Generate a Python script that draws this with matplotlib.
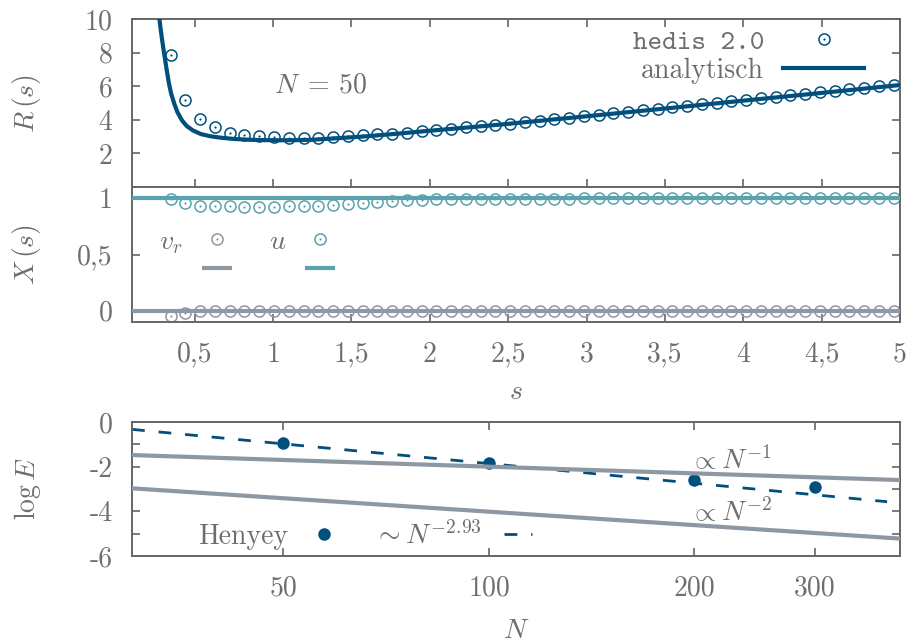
import matplotlib
matplotlib.use('Agg')
import matplotlib.pyplot as plt
import numpy as np
from matplotlib.lines import Line2D
from matplotlib.legend_handler import HandlerBase, HandlerTuple
from matplotlib.ticker import NullLocator, FixedLocator

plt.rcParams.update({
    'font.family': ['cmr10', 'DejaVu Serif'],
    'mathtext.fontset': 'cm',
    'axes.formatter.use_mathtext': True,
    'font.size': 20,
    'lines.scale_dashes': False,
})

# ---------------- data ----------------
# hedis 2.0 sample points (N = 50)
s_hedis = np.linspace(0.347, 4.96, 50)
R_hedis = [7.86, 5.15, 4.06, 3.58, 3.24, 3.11, 3.01, 2.95, 2.91, 2.91,
           2.91, 2.95, 3.01, 3.07, 3.13, 3.17, 3.24, 3.33, 3.40, 3.48,
           3.55, 3.62, 3.70, 3.77, 3.84, 3.93, 4.02, 4.11, 4.20, 4.29,
           4.38, 4.47, 4.56, 4.66, 4.75, 4.84, 4.93, 5.01, 5.10, 5.19,
           5.28, 5.37, 5.45, 5.54, 5.63, 5.72, 5.81, 5.90, 5.99, 6.08]
u_hedis = [0.990, 0.955, 0.935, 0.930, 0.928, 0.925, 0.925, 0.925, 0.927, 0.930,
           0.935, 0.940, 0.950, 0.962, 0.970, 0.976, 0.982, 0.986, 0.990, 0.992,
           0.993, 0.994, 0.995, 0.995, 0.996, 0.996, 0.997, 0.997, 0.998, 0.998,
           0.998, 0.999, 0.999, 0.999, 1.000, 1.000, 1.000, 1.000, 1.000, 1.000,
           1.000, 1.000, 1.000, 1.000, 1.000, 1.000, 1.000, 1.000, 1.000, 1.000]
vr_hedis = [-0.050, -0.024, -0.006, -0.004, -0.003, -0.002, -0.002, -0.001, -0.001, 0.0,
            0.0, 0.0, 0.0, 0.0, 0.0, 0.0, 0.0, 0.0, 0.0, 0.0,
            0.0, 0.0, 0.0, 0.0, 0.0, 0.0, 0.0, 0.0, 0.0, 0.0,
            0.0, 0.0, 0.0, 0.0, 0.0, 0.0, 0.0, 0.0, 0.0, 0.0,
            0.0, 0.0, 0.0, 0.0, 0.0, 0.0, 0.0, 0.0, 0.0, 0.0]

# analytic curve R(s)
s_analytic = [0.27, 0.28, 0.29, 0.30, 0.31, 0.32, 0.335, 0.35, 0.37, 0.39,
              0.42, 0.45, 0.49, 0.54, 0.60, 0.67, 0.75, 0.85, 0.95, 1.05,
              1.15, 1.25, 1.40, 1.60, 1.80, 2.00, 2.25, 2.50, 3.00, 3.50,
              4.00, 4.50, 5.00]
R_analytic = [10.4, 9.6, 8.9, 8.25, 7.65, 7.05, 6.2, 5.55, 4.95, 4.45,
              3.95, 3.62, 3.36, 3.15, 3.02, 2.93, 2.86, 2.81, 2.79, 2.78,
              2.79, 2.81, 2.90, 3.02, 3.18, 3.35, 3.55, 3.76, 4.21, 4.67,
              5.14, 5.60, 6.07]
u_analytic = 1.0
vr_analytic = 0.0

# convergence panel
N_henyey = [50, 100, 200, 300]
logE_henyey = [-0.95, -1.85, -2.60, -2.93]
N_fit = [30, 383]
logE_fit = [-0.33, -3.57]
N_ref = [30, 400]
logE_N1 = [-1.48, -2.60]
logE_N2 = [-2.97, -5.22]

s_ticks = [0.5, 1, 1.5, 2, 2.5, 3, 3.5, 4, 4.5, 5]
s_ticklabels = ['0,5', '1', '1,5', '2', '2,5', '3', '3,5', '4', '4,5', '5']
R_ticks = [2, 4, 6, 8, 10]
X_ticks = [0, 0.5, 1]
X_ticklabels = ['0', '0,5', '1']
N_ticks = [50, 100, 200, 300]
N_ticklabels = ['50', '100', '200', '300']
E_ticks = [0, -2, -4, -6]
E_ticklabels = ['0', '-2', '-4', '-6']
E_minor = [-1, -3, -5]

# ---------------- style ----------------
BLUE = '#004f7c'
TEAL = '#5aa3ad'
GREY = '#8d98a3'
TXT = '#6e6e6e'
FRAME = '#666666'
W, H = 907, 644

fig = plt.figure(figsize=(W / 100, H / 100), dpi=100)

def frac_axes(l, t, r, b):
    return fig.add_axes([l / W, 1 - b / H, (r - l) / W, (b - t) / H])

ax1 = frac_axes(132, 19, 900, 187)
ax2 = frac_axes(132, 187, 900, 322)
ax3 = frac_axes(132, 422, 900, 556)

for ax in (ax1, ax2, ax3):
    for sp in ax.spines.values():
        sp.set_color(FRAME)
        sp.set_linewidth(1.4)
    ax.tick_params(which='both', direction='in', length=6, width=1.2,
                   color=FRAME, labelcolor=TXT, labelsize=20, pad=14)

# ---- top panel ----
ax1.set_xlim(0.1, 5)
ax1.set_ylim(0, 10)
ax1.set_xticks(s_ticks)
ax1.set_yticks(R_ticks)
ax1.set_yticklabels([str(v) for v in R_ticks])
ax1.tick_params(axis='x', top=True, bottom=True, labelbottom=False)
ax1.tick_params(axis='y', left=True, right=True)
ring1, = ax1.plot(s_hedis, R_hedis, 'o', ms=8, mfc='none', mec=BLUE, mew=1.1, zorder=2)
dot1, = ax1.plot(s_hedis, R_hedis, 'o', ms=1.6, color=BLUE, mew=0, zorder=2)
line1, = ax1.plot(s_analytic, R_analytic, color=BLUE, lw=3, zorder=3)
ax1.set_ylabel(r'$R\,(s)$', color=TXT)
ax1.yaxis.set_label_coords(-0.116, 0.5)
ax1.text(0.245, 0.607, r'$N\;=\,50$', transform=ax1.transAxes, color=TXT,
         ha='center', va='center', fontsize=20)
leg1 = ax1.legend([(ring1, dot1), line1], ['hedis 2.0', 'analytisch'],
                  handler_map={tuple: HandlerTuple(ndivide=1)},
                  loc='upper right', bbox_to_anchor=(0.953, 0.94), frameon=False,
                  markerfirst=False, handlelength=2.9, handletextpad=0.7,
                  labelspacing=0.1, borderpad=0, borderaxespad=0, numpoints=1,
                  labelcolor=TXT, fontsize=20)
leg1.get_texts()[0].set_fontfamily('cmtt10')

# ---- middle panel ----
class RingOverLine(HandlerBase):
    def create_artists(self, legend, orig_handle, xdescent, ydescent, width,
                       height, fontsize, trans):
        ring, dot, line = orig_handle
        cx = 0.5 * width - xdescent
        cy = 0.5 * height - ydescent
        a = Line2D([cx], [cy], ls='none', marker='o', ms=ring.get_markersize(),
                   mfc='none', mec=ring.get_markeredgecolor(),
                   mew=ring.get_markeredgewidth())
        b = Line2D([cx], [cy], ls='none', marker='o', ms=dot.get_markersize(),
                   mfc=dot.get_markerfacecolor(), mew=0)
        yl = cy - 1.04 * fontsize
        c = Line2D([-xdescent, width - xdescent], [yl, yl], color=line.get_color(),
                   lw=line.get_linewidth(), solid_capstyle='butt')
        for art in (a, b, c):
            art.set_transform(trans)
        return [a, b, c]

ax2.set_xlim(0.1, 5)
ax2.set_ylim(-0.1, 1.1)
ax2.set_xticks(s_ticks)
ax2.set_xticklabels(s_ticklabels)
ax2.set_yticks(X_ticks)
ax2.set_yticklabels(X_ticklabels)
ax2.tick_params(axis='x', top=False, bottom=True)
ax2.tick_params(axis='y', left=True, right=True)
ring_v, = ax2.plot(s_hedis, vr_hedis, 'o', ms=8, mfc='none', mec=GREY, mew=1.1, zorder=2)
dot_v, = ax2.plot(s_hedis, vr_hedis, 'o', ms=1.6, color=GREY, mew=0, zorder=2)
ring_u, = ax2.plot(s_hedis, u_hedis, 'o', ms=8, mfc='none', mec=TEAL, mew=1.1, zorder=2)
dot_u, = ax2.plot(s_hedis, u_hedis, 'o', ms=1.6, color=TEAL, mew=0, zorder=2)
line_v = ax2.axhline(vr_analytic, color=GREY, lw=3, zorder=3)
line_u = ax2.axhline(u_analytic, color=TEAL, lw=3, zorder=3)
ax2.set_ylabel(r'$X\,(s)$', color=TXT)
ax2.yaxis.set_label_coords(-0.116, 0.5)
ax2.set_xlabel(r'$s$', color=TXT)
ax2.xaxis.set_label_coords(0.5, -0.42)
ax2.legend([(ring_v, dot_v, line_v), (ring_u, dot_u, line_u)], [r'$v_r$', r'$u$'],
           handler_map={tuple: RingOverLine()}, ncol=2,
           loc='upper left', bbox_to_anchor=(0.035, 0.69), frameon=False,
           markerfirst=False, handlelength=1.08, handletextpad=0.68,
           columnspacing=1.33, borderpad=0, borderaxespad=0, labelcolor=TXT,
           fontsize=20)

# ---- bottom panel ----
ax3.set_xscale('log')
ax3.set_xlim(30, 400)
ax3.set_ylim(-6, 0)
ax3.xaxis.set_major_locator(FixedLocator(N_ticks))
ax3.xaxis.set_minor_locator(NullLocator())
ax3.set_xticklabels(N_ticklabels)
ax3.set_yticks(E_ticks)
ax3.set_yticklabels(E_ticklabels)
ax3.yaxis.set_minor_locator(FixedLocator(E_minor))
ax3.tick_params(axis='x', which='both', top=True, bottom=True)
ax3.tick_params(axis='y', which='both', left=True, right=True)
pts, = ax3.plot(N_henyey, logE_henyey, 'o', ms=9, color=BLUE, mew=0, zorder=2)
fit, = ax3.plot(N_fit, logE_fit, color=BLUE, lw=2, ls=(0, (9.2, 10)), zorder=2)
ax3.plot(N_ref, logE_N1, color=GREY, lw=3, zorder=3)
ax3.plot(N_ref, logE_N2, color=GREY, lw=3, zorder=3)
ax3.text(0.727, 0.716, r'$\propto N^{-1}$', transform=ax3.transAxes, color=TXT,
         ha='left', va='center', fontsize=20)
ax3.text(0.727, 0.328, r'$\propto N^{-2}$', transform=ax3.transAxes, color=TXT,
         ha='left', va='center', fontsize=20)
ax3.set_ylabel(r'$\log E$', color=TXT)
ax3.yaxis.set_label_coords(-0.116, 0.5)
ax3.set_xlabel(r'$N$', color=TXT)
ax3.xaxis.set_label_coords(0.5, -0.46)
ax3.legend([pts, fit], ['Henyey', r'$\sim N^{-2.93}$'], ncol=2,
           loc='center left', bbox_to_anchor=(0.086, 0.15), frameon=False,
           markerfirst=False, handlelength=1.0, handletextpad=0.8,
           columnspacing=1.3, borderpad=0, borderaxespad=0, numpoints=1,
           labelcolor=TXT, fontsize=20)

fig.savefig('out.png', dpi=100)
